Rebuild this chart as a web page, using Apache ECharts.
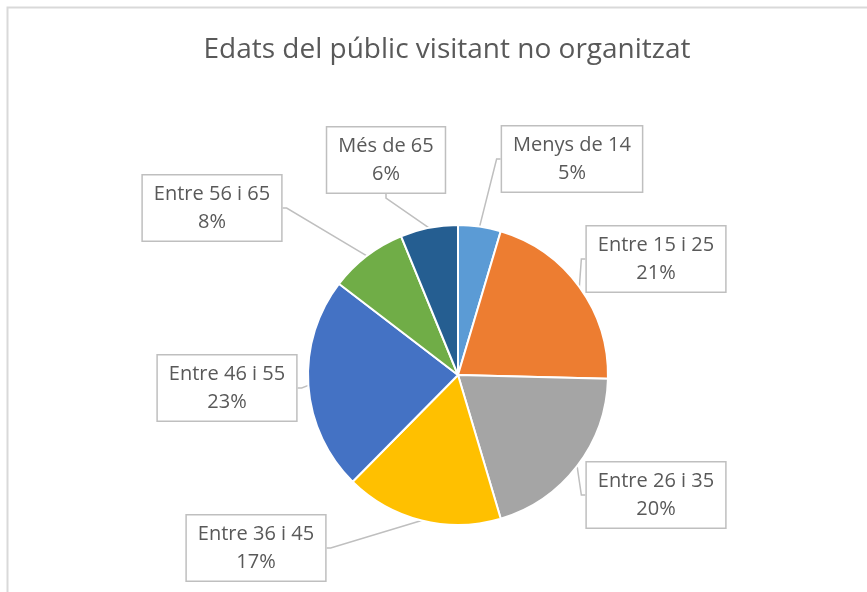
<!DOCTYPE html>
<html>
<head>
<meta charset="utf-8">
<script src="https://cdn.jsdelivr.net/npm/echarts@6/dist/echarts.min.js"></script>
<style>
  html, body { margin: 0; padding: 0; background: #fff; }
  #chart { width: 867px; height: 592px; }
</style>
</head>
<body>
<div id="chart"></div>
<script>
// age groups and their share (%)
var categories = ['Menys de 14', 'Entre 15 i 25', 'Entre 26 i 35', 'Entre 36 i 45', 'Entre 46 i 55', 'Entre 56 i 65', 'Més de 65'];
var values = [4.6, 20.8, 20.0, 17.0, 23.0, 8.4, 6.2];
var colors = ['#5B9BD5', '#ED7D31', '#A5A5A5', '#FFC000', '#4472C4', '#70AD47', '#255E91'];

// where each callout box sits (centre, px)
var labelSpots = [[572, 159], [656, 259], [656, 495], [256, 548], [227, 388], [212, 208], [386, 160]];

var chart = echarts.init(document.getElementById('chart'));

var data = categories.map(function (name, i) {
    return { name: name, value: values[i], itemStyle: { color: colors[i] } };
});

var option = {
    animation: false,
    title: {
        text: 'Edats del públic visitant no organitzat',
        left: 442,
        top: 31,
        textAlign: 'center',
        textStyle: {
            fontFamily: 'Open Sans',
            fontSize: 28,
            fontWeight: 'normal',
            color: '#595959'
        }
    },
    graphic: [{
        type: 'rect',
        shape: { x: 7.5, y: 7.5, width: 900, height: 700 },
        style: { fill: 'none', stroke: '#d9d9d9', lineWidth: 2 },
        silent: true
    }],
    series: [{
        type: 'pie',
        center: [458, 375],
        radius: 150,
        startAngle: 90,
        clockwise: true,
        data: data,
        itemStyle: { borderColor: '#fff', borderWidth: 2 },
        label: {
            show: true,
            position: 'outside',
            formatter: function (p) {
                return p.name + '\n' + Math.round(p.percent) + '%';
            },
            fontFamily: 'Open Sans',
            fontSize: 20,
            lineHeight: 28,
            color: '#595959',
            align: 'center',
            backgroundColor: '#fff',
            borderColor: '#bfbfbf',
            borderWidth: 1.5,
            padding: [5, 11, 4, 11]
        },
        labelLine: {
            show: true,
            length: 20,
            length2: 4,
            lineStyle: { color: '#bfbfbf', width: 1.5 }
        },
        labelLayout: function (params) {
            var s = labelSpots[params.dataIndex];
            return {
                x: s[0],
                y: s[1],
                align: 'center',
                verticalAlign: 'middle'
            };
        },
        emphasis: { disabled: true }
    }]
};

chart.setOption(option);
</script>
</body>
</html>
